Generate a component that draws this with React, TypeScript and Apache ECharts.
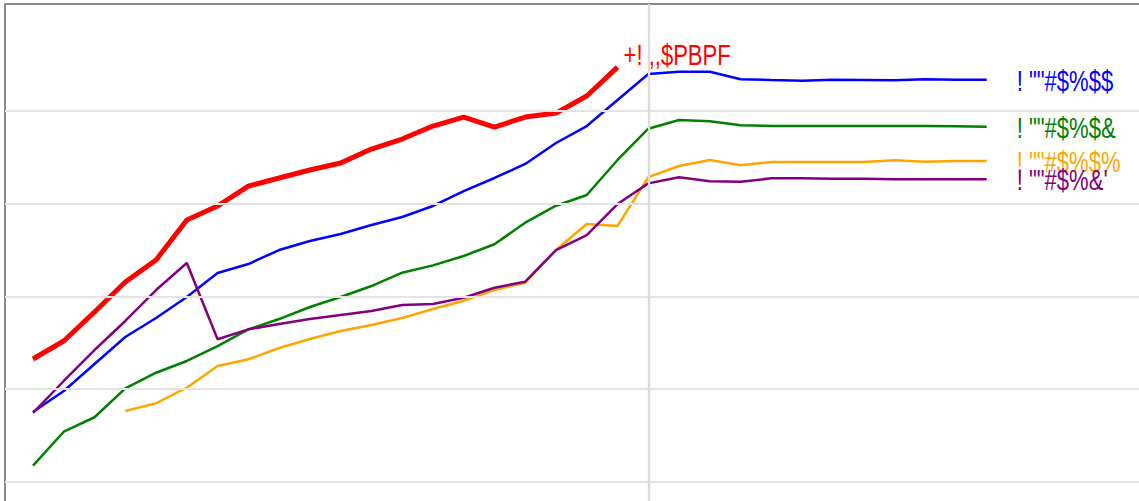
import React, { useEffect, useRef } from "react";
import * as echarts from "echarts";

const xs = Array.from({ length: 32 }, (_, i) => i);

const redVals = [13.26, 15.2, 18.33, 21.56, 23.94, 28.25, 29.76, 31.91, 32.78, 33.64, 34.39, 35.9, 36.98, 38.38, 39.35, 38.27, 39.35, 39.78, 41.62, 44.74];
const blueVals = [7.55, 9.81, 12.72, 15.63, 17.68, 19.95, 22.53, 23.5, 25.01, 25.98, 26.74, 27.71, 28.57, 29.76, 31.37, 32.78, 34.29, 36.55, 38.38, 41.19, 43.99, 44.24, 44.24, 43.42, 43.34, 43.27, 43.37, 43.34, 43.31, 43.42, 43.37, 43.37];
const greenVals = [1.76, 5.42, 6.98, 10.1, 11.78, 13.05, 14.66, 16.46, 17.57, 18.87, 19.95, 21.13, 22.57, 23.36, 24.37, 25.63, 27.96, 29.79, 30.94, 34.72, 38.09, 39.03, 38.89, 38.46, 38.38, 38.38, 38.38, 38.38, 38.38, 38.38, 38.36, 38.31];
const orangeVals = [null, null, null, 7.66, 8.49, 10.17, 12.51, 13.23, 14.45, 15.42, 16.28, 16.93, 17.68, 18.65, 19.55, 20.7, 21.49, 25.01, 27.82, 27.6, 32.88, 34.07, 34.72, 34.15, 34.5, 34.5, 34.5, 34.5, 34.68, 34.53, 34.61, 34.61];
const purpleVals = [7.44, 10.89, 14.23, 17.36, 20.7, 23.61, 15.39, 16.46, 17.03, 17.57, 18.01, 18.44, 19.08, 19.19, 19.87, 20.95, 21.6, 25.01, 26.63, 29.97, 32.2, 32.85, 32.42, 32.38, 32.74, 32.74, 32.7, 32.7, 32.64, 32.64, 32.64, 32.64];

const gridValues = [0, 10, 20, 30, 40];
const markerX = 20;

const seriesDefs = [
  { name: "blue", label: '! ""#$%$$', color: "#0000ff", values: blueVals, width: 2.5 },
  { name: "green", label: '! ""#$%$&', color: "#008000", values: greenVals, width: 2.5 },
  { name: "orange", label: '! ""#$%$%', color: "#ffa500", values: orangeVals, width: 2.5 },
  { name: "purple", label: "! \"\"#$%&'", color: "#800080", values: purpleVals, width: 2.5 },
  { name: "red", label: "+! ,,$PBPF", color: "#ff0000", values: redVals, width: 5 },
];

export default function App() {
  const ref = useRef<HTMLDivElement>(null);
  useEffect(() => {
    if (!ref.current) return;
    const chart = echarts.init(ref.current, null, { renderer: "svg" });
    const font = "'Liberation Sans', Arial, sans-serif";
    const series: any[] = [
      {
        name: "gridlines",
        type: "line",
        data: [],
        z: 0,
        silent: true,
        markLine: {
          silent: true,
          symbol: ["none", "none"],
          label: { show: false },
          lineStyle: { color: "#e3e3e3", width: 2, type: "solid" },
          data: [
            ...gridValues.map((v) => ({ yAxis: v })),
            { xAxis: markerX, lineStyle: { color: "#dcdcdc", width: 2.3, type: "solid" } },
          ],
        },
      },
    ];
    const lastPoints: any[] = [];
    seriesDefs.forEach((s) => {
      const isRed = s.name === "red";
      const data = xs
        .map((x, i) => (s.values[i] == null ? null : [x, s.values[i]]))
        .filter((d) => d !== null) as number[][];
      lastPoints.push(data[data.length - 1]);
      series.push({
        name: s.name,
        type: "line",
        z: isRed ? 4 : 3,
        showSymbol: false,
        symbol: "none",
        lineStyle: { color: s.color, width: s.width },
        itemStyle: { color: s.color },
        data,
      });
    });
    chart.setOption({
      animation: false,
      backgroundColor: "#ffffff",
      grid: { left: 5, top: 4, right: 0, bottom: 0, containLabel: false },
      xAxis: {
        type: "value",
        position: "top",
        min: -0.91,
        max: 35.95,
        axisLine: { show: true, onZero: false, lineStyle: { color: "#8a8a8a", width: 2 } },
        axisTick: { show: false },
        axisLabel: { show: false },
        splitLine: { show: false },
      },
      yAxis: {
        type: "value",
        min: -2.05,
        max: 51.54,
        axisLine: { show: true, onZero: false, lineStyle: { color: "#8a8a8a", width: 2 } },
        axisTick: { show: false },
        axisLabel: { show: false },
        splitLine: { show: false },
      },
      series,
    });
    const graphic = seriesDefs.map((s, i) => {
      const isRed = s.name === "red";
      const p = chart.convertToPixel({ xAxisIndex: 0, yAxisIndex: 0 }, lastPoints[i]) as number[];
      return {
        type: "text",
        x: p[0] + (isRed ? 6 : 30),
        y: p[1] + (isRed ? -12 : 1),
        scaleX: 0.76,
        z: 10,
        silent: true,
        style: {
          text: s.label,
          fill: s.color,
          fontSize: 29,
          fontFamily: font,
          align: "left",
          verticalAlign: "middle",
        },
      };
    });
    chart.setOption({ graphic });
    return () => chart.dispose();
  }, []);
  return (
    <div style={{ position: "fixed", left: 0, top: 0, width: 1139, height: 501, overflow: "hidden", background: "#fff" }}>
      <div ref={ref} style={{ width: 1139, height: 501 }} />
    </div>
  );
}
